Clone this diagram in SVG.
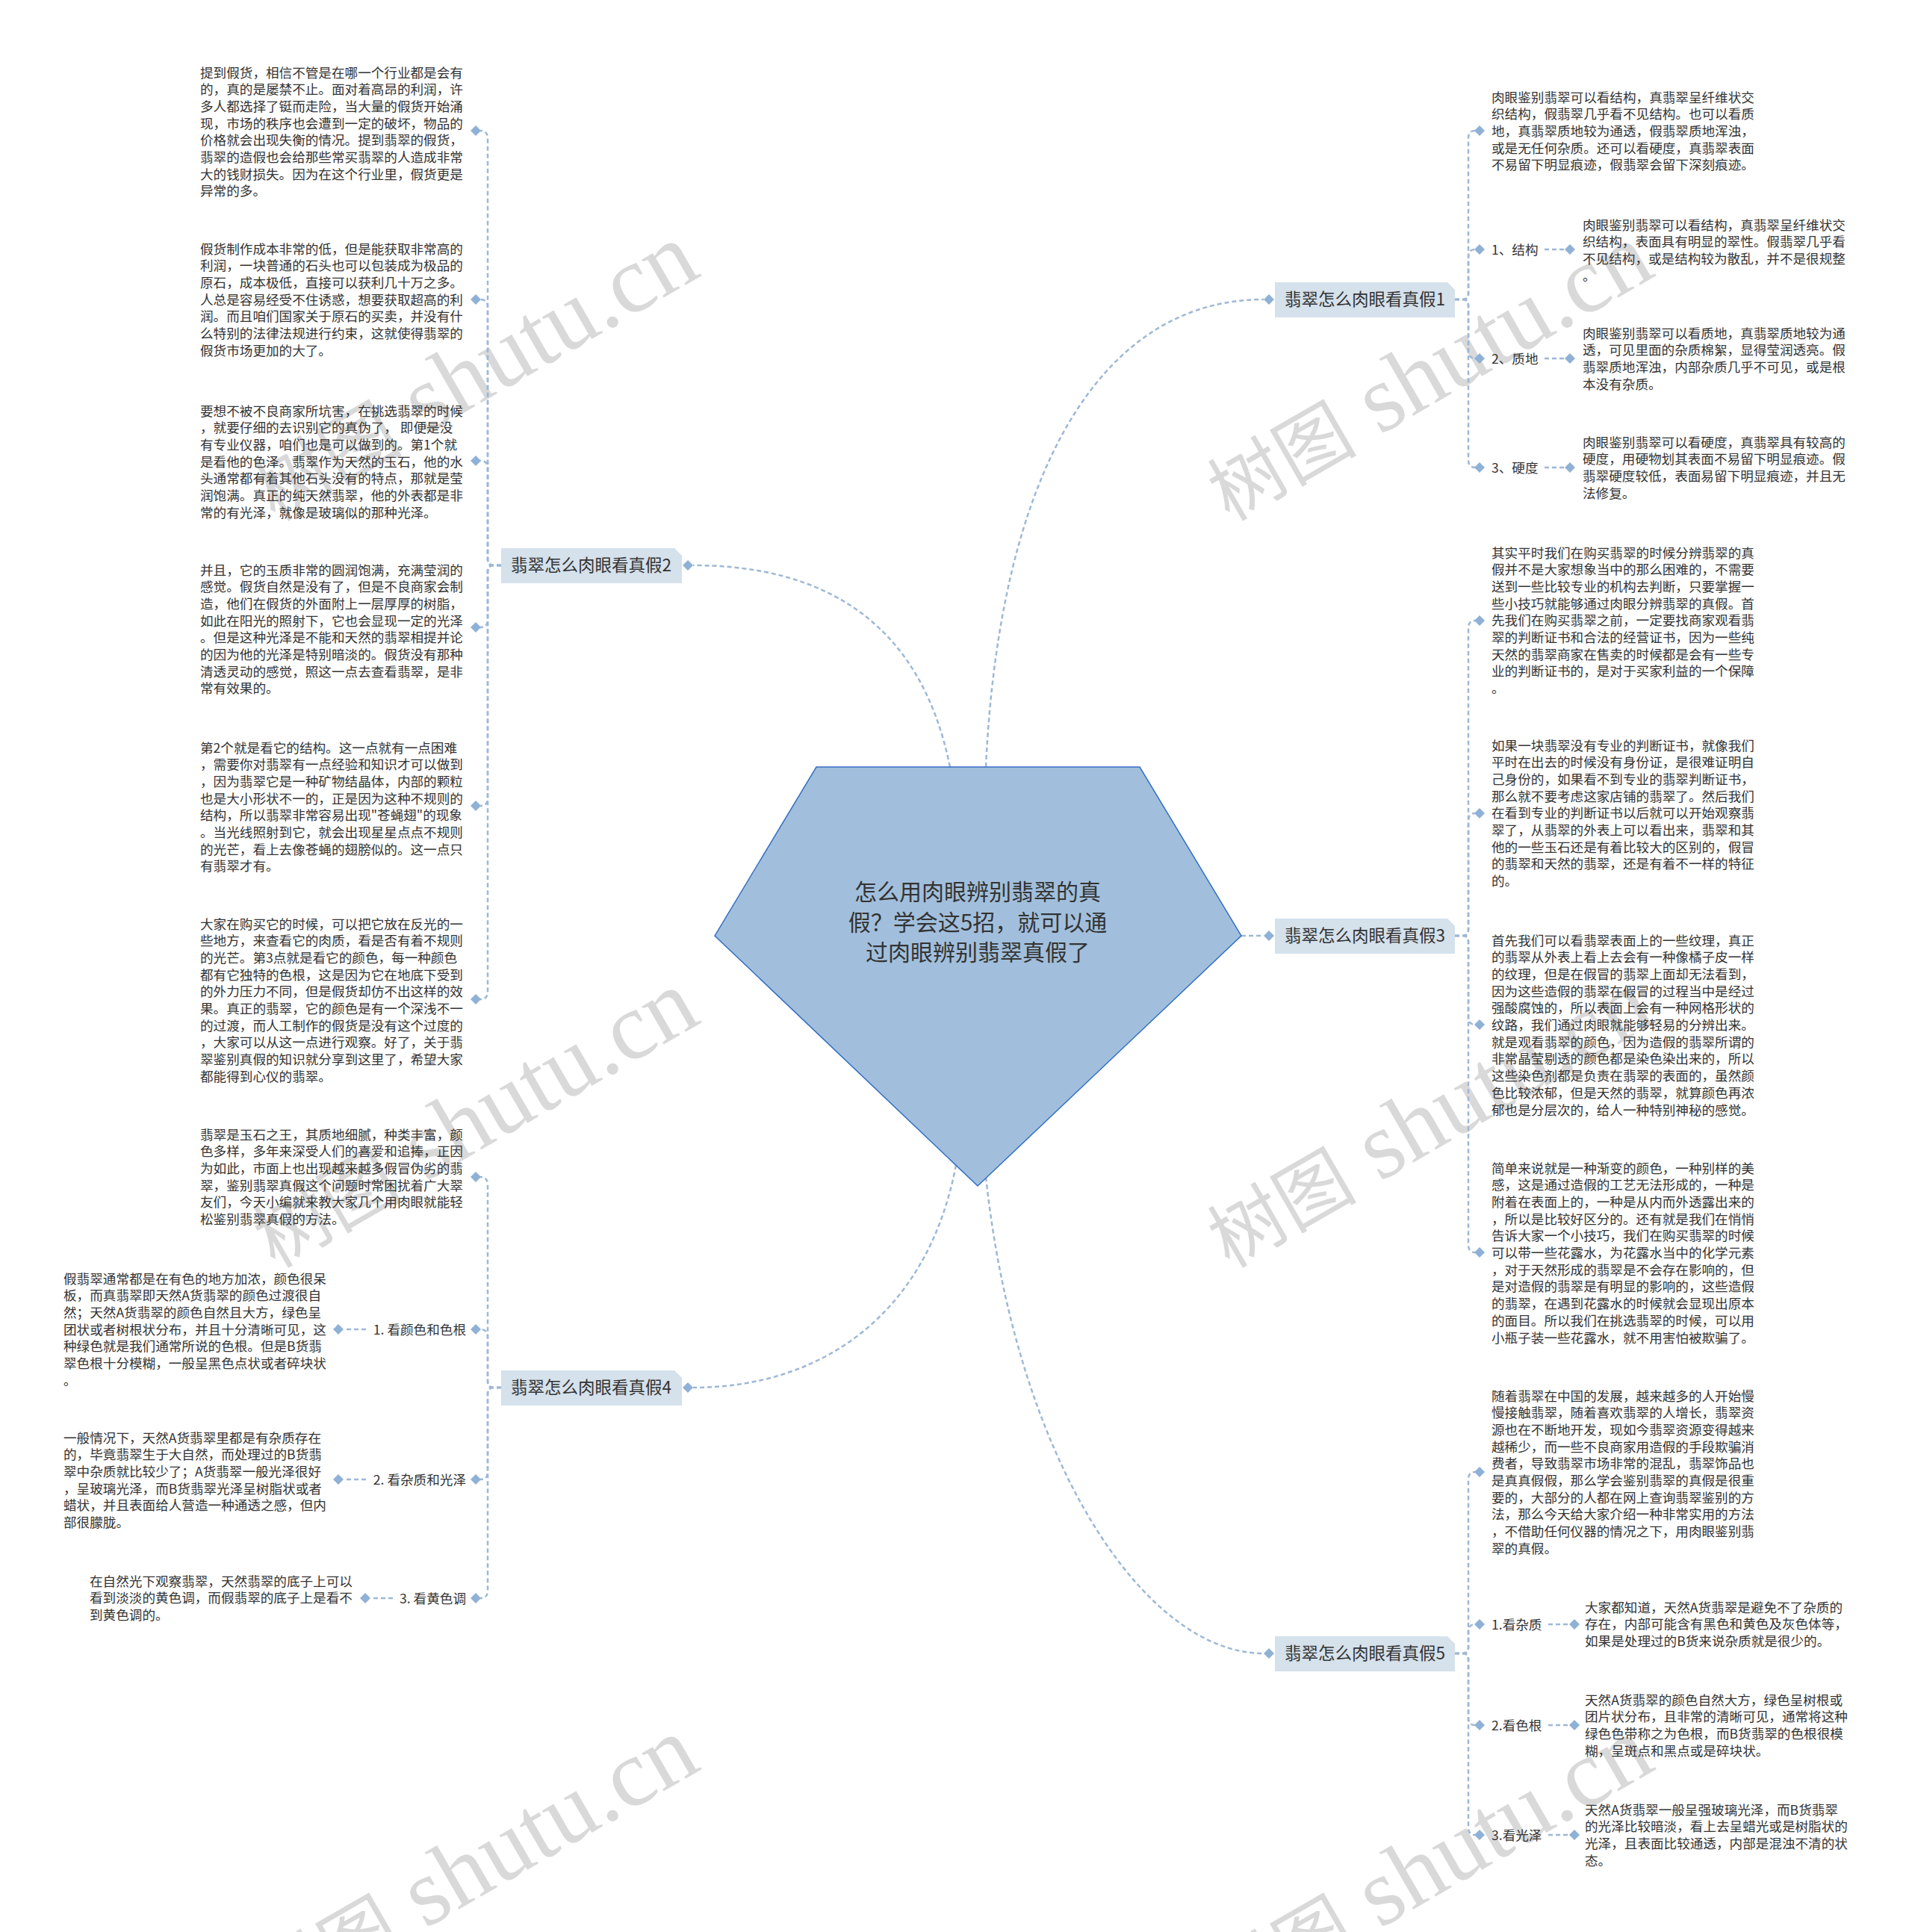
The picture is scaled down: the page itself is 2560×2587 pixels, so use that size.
<svg xmlns="http://www.w3.org/2000/svg" width="2560" height="2587" viewBox="0 0 2560 2587">
<style>
.t{font-family:"Noto Sans CJK SC","Liberation Sans",sans-serif;font-size:17.6px;fill:#333}
.b{font-size:22.5px}
.c{font-size:30px;text-anchor:middle}
.e{text-anchor:end}
.cn{fill:none;stroke:#9db8d6;stroke-width:2.5;stroke-dasharray:6 4}
.bx{fill:#d5e1eb}
.wm{font-family:"Liberation Serif","Noto Sans CJK SC",serif;font-size:128px;fill:#d9d9d9}
.wc{font-size:100px}
</style>
<defs>
<path id="dm" d="M0,-7 L7,0 L0,7 L-7,0Z" fill="#8fb1d6"/>
</defs>
<rect width="2560" height="2587" fill="#fff"/>
<g id="watermarks">
<text class="wm" x="368" y="699" transform="rotate(-30 368 699)"><tspan class="wc">树图</tspan> shutu.cn</text>
<text class="wm" x="368" y="1699" transform="rotate(-30 368 1699)"><tspan class="wc">树图</tspan> shutu.cn</text>
<text class="wm" x="368" y="2699" transform="rotate(-30 368 2699)"><tspan class="wc">树图</tspan> shutu.cn</text>
<text class="wm" x="1646" y="699" transform="rotate(-30 1646 699)"><tspan class="wc">树图</tspan> shutu.cn</text>
<text class="wm" x="1646" y="1699" transform="rotate(-30 1646 1699)"><tspan class="wc">树图</tspan> shutu.cn</text>
<text class="wm" x="1646" y="2699" transform="rotate(-30 1646 2699)"><tspan class="wc">树图</tspan> shutu.cn</text>
</g>
<g id="connectors">
<path class="cn" d="M1320,1027 C1338,640 1470,401 1692,401"/>
<path class="cn" d="M1272,1027 C1232,830 1100,757 928,757"/>
<path class="cn" d="M1662,1253 L1692,1253"/>
<path class="cn" d="M1280,1560 C1242,1760 1100,1858 928,1858"/>
<path class="cn" d="M1320,1576 C1360,1950 1530,2214 1692,2214"/>
<path class="cn" d="M1948,401 H1958 Q1966,401 1966,393 V185 Q1966,175 1975,175"/>
<path class="cn" d="M1948,401 H1958 Q1966,401 1966,393 V344 Q1966,334 1975,334"/>
<path class="cn" d="M1948,401 H1958 Q1966,401 1966,409 V470 Q1966,480 1975,480"/>
<path class="cn" d="M1948,401 H1958 Q1966,401 1966,409 V616 Q1966,626 1975,626"/>
<path class="cn" d="M2068,334 H2095"/>
<path class="cn" d="M2068,480 H2095"/>
<path class="cn" d="M2068,626 H2095"/>
<path class="cn" d="M1948,1253 H1958 Q1966,1253 1966,1245 V841 Q1966,831 1975,831"/>
<path class="cn" d="M1948,1253 H1958 Q1966,1253 1966,1245 V1099 Q1966,1089 1975,1089"/>
<path class="cn" d="M1948,1253 H1958 Q1966,1253 1966,1261 V1362 Q1966,1372 1975,1372"/>
<path class="cn" d="M1948,1253 H1958 Q1966,1253 1966,1261 V1667 Q1966,1677 1975,1677"/>
<path class="cn" d="M1948,2214 H1958 Q1966,2214 1966,2206 V1981 Q1966,1971 1975,1971"/>
<path class="cn" d="M1948,2214 H1958 Q1966,2214 1966,2206 V2185 Q1966,2175 1975,2175"/>
<path class="cn" d="M1948,2214 H1958 Q1966,2214 1966,2222 V2300 Q1966,2310 1975,2310"/>
<path class="cn" d="M1948,2214 H1958 Q1966,2214 1966,2222 V2447 Q1966,2457 1975,2457"/>
<path class="cn" d="M2073,2175 H2101"/>
<path class="cn" d="M2073,2310 H2101"/>
<path class="cn" d="M2073,2457 H2101"/>
<path class="cn" d="M671,757 H661 Q653,757 653,749 V185 Q653,175 643,175"/>
<path class="cn" d="M671,757 H661 Q653,757 653,749 V411 Q653,401 643,401"/>
<path class="cn" d="M671,757 H661 Q653,757 653,749 V627 Q653,617 643,617"/>
<path class="cn" d="M671,757 H661 Q653,757 653,765 V830 Q653,840 643,840"/>
<path class="cn" d="M671,757 H661 Q653,757 653,765 V1069 Q653,1079 643,1079"/>
<path class="cn" d="M671,757 H661 Q653,757 653,765 V1328 Q653,1338 643,1338"/>
<path class="cn" d="M671,1858 H661 Q653,1858 653,1850 V1586 Q653,1576 643,1576"/>
<path class="cn" d="M671,1858 H661 Q653,1858 653,1850 V1790 Q653,1780 643,1780"/>
<path class="cn" d="M671,1858 H661 Q653,1858 653,1866 V1971 Q653,1981 643,1981"/>
<path class="cn" d="M671,1858 H661 Q653,1858 653,1866 V2130 Q653,2140 643,2140"/>
<path class="cn" d="M490,1780 H460"/>
<path class="cn" d="M490,1981 H460"/>
<path class="cn" d="M526,2140 H496"/>
<use href="#dm" x="1699" y="401"/>
<use href="#dm" x="921" y="757"/>
<use href="#dm" x="1699" y="1253"/>
<use href="#dm" x="921" y="1858"/>
<use href="#dm" x="1699" y="2214"/>
<use href="#dm" x="1981" y="175"/>
<use href="#dm" x="1981" y="334"/>
<use href="#dm" x="1981" y="480"/>
<use href="#dm" x="1981" y="626"/>
<use href="#dm" x="2102" y="334"/>
<use href="#dm" x="2102" y="480"/>
<use href="#dm" x="2102" y="626"/>
<use href="#dm" x="1981" y="831"/>
<use href="#dm" x="1981" y="1089"/>
<use href="#dm" x="1981" y="1372"/>
<use href="#dm" x="1981" y="1677"/>
<use href="#dm" x="1981" y="1971"/>
<use href="#dm" x="1981" y="2175"/>
<use href="#dm" x="1981" y="2310"/>
<use href="#dm" x="1981" y="2457"/>
<use href="#dm" x="2108" y="2175"/>
<use href="#dm" x="2108" y="2310"/>
<use href="#dm" x="2108" y="2457"/>
<use href="#dm" x="637" y="175"/>
<use href="#dm" x="637" y="401"/>
<use href="#dm" x="637" y="617"/>
<use href="#dm" x="637" y="840"/>
<use href="#dm" x="637" y="1079"/>
<use href="#dm" x="637" y="1338"/>
<use href="#dm" x="637" y="1576"/>
<use href="#dm" x="637" y="1780"/>
<use href="#dm" x="637" y="1981"/>
<use href="#dm" x="637" y="2140"/>
<use href="#dm" x="453" y="1780"/>
<use href="#dm" x="453" y="1981"/>
<use href="#dm" x="489" y="2140"/>
</g>
<g id="root">
<polygon points="1093,1027 1526,1027 1662,1253 1309,1588 957,1253" fill="#a1bfdc" stroke="#3470c2" stroke-width="1.5"/>
<text class="t c" x="1309" y="1205">怎么用肉眼辨别翡翠的真</text>
<text class="t c" x="1309" y="1246">假？学会这5招，就可以通</text>
<text class="t c" x="1309" y="1286">过肉眼辨别翡翠真假了</text>
</g>
<g id="n1">
<path class="bx" d="M1707,378 H1938 L1948,388 V425 H1707Z"/>
<text class="t b" x="1720" y="409">翡翠怎么肉眼看真假1</text>
</g>
<g id="n2">
<path class="bx" d="M671,734 H903 L913,744 V781 H671Z"/>
<text class="t b" x="684" y="765">翡翠怎么肉眼看真假2</text>
</g>
<g id="n3">
<path class="bx" d="M1707,1230 H1938 L1948,1240 V1277 H1707Z"/>
<text class="t b" x="1720" y="1261">翡翠怎么肉眼看真假3</text>
</g>
<g id="n4">
<path class="bx" d="M671,1835 H903 L913,1845 V1882 H671Z"/>
<text class="t b" x="684" y="1866">翡翠怎么肉眼看真假4</text>
</g>
<g id="n5">
<path class="bx" d="M1707,2191 H1938 L1948,2201 V2238 H1707Z"/>
<text class="t b" x="1720" y="2222">翡翠怎么肉眼看真假5</text>
</g>
<g id="n2-children">
<text class="t" x="268" y="103.5"><tspan x="268">提到假货，相信不管是在哪一个行业都是会有</tspan><tspan x="268" dy="22.7">的，真的是屡禁不止。面对着高昂的利润，许</tspan><tspan x="268" dy="22.7">多人都选择了铤而走险，当大量的假货开始涌</tspan><tspan x="268" dy="22.7">现，市场的秩序也会遭到一定的破坏，物品的</tspan><tspan x="268" dy="22.7">价格就会出现失衡的情况。提到翡翠的假货，</tspan><tspan x="268" dy="22.7">翡翠的造假也会给那些常买翡翠的人造成非常</tspan><tspan x="268" dy="22.7">大的钱财损失。因为在这个行业里，假货更是</tspan><tspan x="268" dy="22.7">异常的多。</tspan></text>
<text class="t" x="268" y="339.5"><tspan x="268">假货制作成本非常的低，但是能获取非常高的</tspan><tspan x="268" dy="22.7">利润，一块普通的石头也可以包装成为极品的</tspan><tspan x="268" dy="22.7">原石，成本极低，直接可以获利几十万之多。</tspan><tspan x="268" dy="22.7">人总是容易经受不住诱惑，想要获取超高的利</tspan><tspan x="268" dy="22.7">润。而且咱们国家关于原石的买卖，并没有什</tspan><tspan x="268" dy="22.7">么特别的法律法规进行约束，这就使得翡翠的</tspan><tspan x="268" dy="22.7">假货市场更加的大了。</tspan></text>
<text class="t" x="268" y="556.5"><tspan x="268">要想不被不良商家所坑害，在挑选翡翠的时候</tspan><tspan x="268" dy="22.7">，就要仔细的去识别它的真伪了， 即便是没</tspan><tspan x="268" dy="22.7">有专业仪器，咱们也是可以做到的。第1个就</tspan><tspan x="268" dy="22.7">是看他的色泽。翡翠作为天然的玉石，他的水</tspan><tspan x="268" dy="22.7">头通常都有着其他石头没有的特点，那就是莹</tspan><tspan x="268" dy="22.7">润饱满。真正的纯天然翡翠，他的外表都是非</tspan><tspan x="268" dy="22.7">常的有光泽，就像是玻璃似的那种光泽。</tspan></text>
<text class="t" x="268" y="769.5"><tspan x="268">并且，它的玉质非常的圆润饱满，充满莹润的</tspan><tspan x="268" dy="22.7">感觉。假货自然是没有了，但是不良商家会制</tspan><tspan x="268" dy="22.7">造，他们在假货的外面附上一层厚厚的树脂，</tspan><tspan x="268" dy="22.7">如此在阳光的照射下，它也会显现一定的光泽</tspan><tspan x="268" dy="22.7">。但是这种光泽是不能和天然的翡翠相提并论</tspan><tspan x="268" dy="22.7">的因为他的光泽是特别暗淡的。假货没有那种</tspan><tspan x="268" dy="22.7">清透灵动的感觉，照这一点去查看翡翠，是非</tspan><tspan x="268" dy="22.7">常有效果的。</tspan></text>
<text class="t" x="268" y="1007.5"><tspan x="268">第2个就是看它的结构。这一点就有一点困难</tspan><tspan x="268" dy="22.7">，需要你对翡翠有一点经验和知识才可以做到</tspan><tspan x="268" dy="22.7">，因为翡翠它是一种矿物结晶体，内部的颗粒</tspan><tspan x="268" dy="22.7">也是大小形状不一的，正是因为这种不规则的</tspan><tspan x="268" dy="22.7">结构，所以翡翠非常容易出现"苍蝇翅"的现象</tspan><tspan x="268" dy="22.7">。当光线照射到它，就会出现星星点点不规则</tspan><tspan x="268" dy="22.7">的光芒，看上去像苍蝇的翅膀似的。这一点只</tspan><tspan x="268" dy="22.7">有翡翠才有。</tspan></text>
<text class="t" x="268" y="1243.5"><tspan x="268">大家在购买它的时候，可以把它放在反光的一</tspan><tspan x="268" dy="22.7">些地方，来查看它的肉质，看是否有着不规则</tspan><tspan x="268" dy="22.7">的光芒。第3点就是看它的颜色，每一种颜色</tspan><tspan x="268" dy="22.7">都有它独特的色根，这是因为它在地底下受到</tspan><tspan x="268" dy="22.7">的外力压力不同，但是假货却仿不出这样的效</tspan><tspan x="268" dy="22.7">果。真正的翡翠，它的颜色是有一个深浅不一</tspan><tspan x="268" dy="22.7">的过渡，而人工制作的假货是没有这个过度的</tspan><tspan x="268" dy="22.7">，大家可以从这一点进行观察。好了，关于翡</tspan><tspan x="268" dy="22.7">翠鉴别真假的知识就分享到这里了，希望大家</tspan><tspan x="268" dy="22.7">都能得到心仪的翡翠。</tspan></text>
</g>
<g id="n4-children">
<text class="t" x="268" y="1525.5"><tspan x="268">翡翠是玉石之王，其质地细腻，种类丰富，颜</tspan><tspan x="268" dy="22.7">色多样，多年来深受人们的喜爱和追捧，正因</tspan><tspan x="268" dy="22.7">为如此，市面上也出现越来越多假冒伪劣的翡</tspan><tspan x="268" dy="22.7">翠，鉴别翡翠真假这个问题时常困扰着广大翠</tspan><tspan x="268" dy="22.7">友们，今天小编就来教大家几个用肉眼就能轻</tspan><tspan x="268" dy="22.7">松鉴别翡翠真假的方法。</tspan></text>
<text class="t e" x="624" y="1786.5">1. 看颜色和色根</text>
<text class="t" x="85" y="1718.5"><tspan x="85">假翡翠通常都是在有色的地方加浓，颜色很呆</tspan><tspan x="85" dy="22.7">板，而真翡翠即天然A货翡翠的颜色过渡很自</tspan><tspan x="85" dy="22.7">然；天然A货翡翠的颜色自然且大方，绿色呈</tspan><tspan x="85" dy="22.7">团状或者树根状分布，并且十分清晰可见，这</tspan><tspan x="85" dy="22.7">种绿色就是我们通常所说的色根。但是B货翡</tspan><tspan x="85" dy="22.7">翠色根十分模糊，一般呈黑色点状或者碎块状</tspan><tspan x="85" dy="22.7">。</tspan></text>
<text class="t e" x="624" y="1987.5">2. 看杂质和光泽</text>
<text class="t" x="85" y="1931.5"><tspan x="85">一般情况下，天然A货翡翠里都是有杂质存在</tspan><tspan x="85" dy="22.7">的，毕竟翡翠生于大自然，而处理过的B货翡</tspan><tspan x="85" dy="22.7">翠中杂质就比较少了；A货翡翠一般光泽很好</tspan><tspan x="85" dy="22.7">，呈玻璃光泽，而B货翡翠光泽呈树脂状或者</tspan><tspan x="85" dy="22.7">蜡状，并且表面给人营造一种通透之感，但内</tspan><tspan x="85" dy="22.7">部很朦胧。</tspan></text>
<text class="t e" x="624" y="2146.5">3. 看黄色调</text>
<text class="t" x="120" y="2123.5"><tspan x="120">在自然光下观察翡翠，天然翡翠的底子上可以</tspan><tspan x="120" dy="22.7">看到淡淡的黄色调，而假翡翠的底子上是看不</tspan><tspan x="120" dy="22.7">到黄色调的。</tspan></text>
</g>
<g id="n1-children">
<text class="t" x="1997" y="136.5"><tspan x="1997">肉眼鉴别翡翠可以看结构，真翡翠呈纤维状交</tspan><tspan x="1997" dy="22.7">织结构，假翡翠几乎看不见结构。也可以看质</tspan><tspan x="1997" dy="22.7">地，真翡翠质地较为通透，假翡翠质地浑浊，</tspan><tspan x="1997" dy="22.7">或是无任何杂质。还可以看硬度，真翡翠表面</tspan><tspan x="1997" dy="22.7">不易留下明显痕迹，假翡翠会留下深刻痕迹。</tspan></text>
<text class="t" x="1997" y="340.5">1、结构</text>
<text class="t" x="2119" y="307.5"><tspan x="2119">肉眼鉴别翡翠可以看结构，真翡翠呈纤维状交</tspan><tspan x="2119" dy="22.7">织结构，表面具有明显的翠性。假翡翠几乎看</tspan><tspan x="2119" dy="22.7">不见结构，或是结构较为散乱，并不是很规整</tspan><tspan x="2119" dy="22.7">。</tspan></text>
<text class="t" x="1997" y="486.5">2、质地</text>
<text class="t" x="2119" y="452.5"><tspan x="2119">肉眼鉴别翡翠可以看质地，真翡翠质地较为通</tspan><tspan x="2119" dy="22.7">透，可见里面的杂质棉絮，显得莹润透亮。假</tspan><tspan x="2119" dy="22.7">翡翠质地浑浊，内部杂质几乎不可见，或是根</tspan><tspan x="2119" dy="22.7">本没有杂质。</tspan></text>
<text class="t" x="1997" y="632.5">3、硬度</text>
<text class="t" x="2119" y="598.5"><tspan x="2119">肉眼鉴别翡翠可以看硬度，真翡翠具有较高的</tspan><tspan x="2119" dy="22.7">硬度，用硬物划其表面不易留下明显痕迹。假</tspan><tspan x="2119" dy="22.7">翡翠硬度较低，表面易留下明显痕迹，并且无</tspan><tspan x="2119" dy="22.7">法修复。</tspan></text>
</g>
<g id="n3-children">
<text class="t" x="1997" y="746.5"><tspan x="1997">其实平时我们在购买翡翠的时候分辨翡翠的真</tspan><tspan x="1997" dy="22.7">假并不是大家想象当中的那么困难的，不需要</tspan><tspan x="1997" dy="22.7">送到一些比较专业的机构去判断，只要掌握一</tspan><tspan x="1997" dy="22.7">些小技巧就能够通过肉眼分辨翡翠的真假。首</tspan><tspan x="1997" dy="22.7">先我们在购买翡翠之前，一定要找商家观看翡</tspan><tspan x="1997" dy="22.7">翠的判断证书和合法的经营证书，因为一些纯</tspan><tspan x="1997" dy="22.7">天然的翡翠商家在售卖的时候都是会有一些专</tspan><tspan x="1997" dy="22.7">业的判断证书的，是对于买家利益的一个保障</tspan><tspan x="1997" dy="22.7">。</tspan></text>
<text class="t" x="1997" y="1004.5"><tspan x="1997">如果一块翡翠没有专业的判断证书，就像我们</tspan><tspan x="1997" dy="22.7">平时在出去的时候没有身份证，是很难证明自</tspan><tspan x="1997" dy="22.7">己身份的，如果看不到专业的翡翠判断证书，</tspan><tspan x="1997" dy="22.7">那么就不要考虑这家店铺的翡翠了。然后我们</tspan><tspan x="1997" dy="22.7">在看到专业的判断证书以后就可以开始观察翡</tspan><tspan x="1997" dy="22.7">翠了，从翡翠的外表上可以看出来，翡翠和其</tspan><tspan x="1997" dy="22.7">他的一些玉石还是有着比较大的区别的，假冒</tspan><tspan x="1997" dy="22.7">的翡翠和天然的翡翠，还是有着不一样的特征</tspan><tspan x="1997" dy="22.7">的。</tspan></text>
<text class="t" x="1997" y="1265.5"><tspan x="1997">首先我们可以看翡翠表面上的一些纹理，真正</tspan><tspan x="1997" dy="22.7">的翡翠从外表上看上去会有一种像橘子皮一样</tspan><tspan x="1997" dy="22.7">的纹理，但是在假冒的翡翠上面却无法看到，</tspan><tspan x="1997" dy="22.7">因为这些造假的翡翠在假冒的过程当中是经过</tspan><tspan x="1997" dy="22.7">强酸腐蚀的，所以表面上会有一种网格形状的</tspan><tspan x="1997" dy="22.7">纹路，我们通过肉眼就能够轻易的分辨出来。</tspan><tspan x="1997" dy="22.7">就是观看翡翠的颜色，因为造假的翡翠所谓的</tspan><tspan x="1997" dy="22.7">非常晶莹剔透的颜色都是染色染出来的，所以</tspan><tspan x="1997" dy="22.7">这些染色剂都是负责在翡翠的表面的，虽然颜</tspan><tspan x="1997" dy="22.7">色比较浓郁，但是天然的翡翠，就算颜色再浓</tspan><tspan x="1997" dy="22.7">郁也是分层次的，给人一种特别神秘的感觉。</tspan></text>
<text class="t" x="1997" y="1570.5"><tspan x="1997">简单来说就是一种渐变的颜色，一种别样的美</tspan><tspan x="1997" dy="22.7">感，这是通过造假的工艺无法形成的，一种是</tspan><tspan x="1997" dy="22.7">附着在表面上的，一种是从内而外透露出来的</tspan><tspan x="1997" dy="22.7">，所以是比较好区分的。还有就是我们在悄悄</tspan><tspan x="1997" dy="22.7">告诉大家一个小技巧，我们在购买翡翠的时候</tspan><tspan x="1997" dy="22.7">可以带一些花露水，为花露水当中的化学元素</tspan><tspan x="1997" dy="22.7">，对于天然形成的翡翠是不会存在影响的，但</tspan><tspan x="1997" dy="22.7">是对造假的翡翠是有明显的影响的，这些造假</tspan><tspan x="1997" dy="22.7">的翡翠，在遇到花露水的时候就会显现出原本</tspan><tspan x="1997" dy="22.7">的面目。所以我们在挑选翡翠的时候，可以用</tspan><tspan x="1997" dy="22.7">小瓶子装一些花露水，就不用害怕被欺骗了。</tspan></text>
</g>
<g id="n5-children">
<text class="t" x="1997" y="1875.5"><tspan x="1997">随着翡翠在中国的发展，越来越多的人开始慢</tspan><tspan x="1997" dy="22.7">慢接触翡翠，随着喜欢翡翠的人增长，翡翠资</tspan><tspan x="1997" dy="22.7">源也在不断地开发，现如今翡翠资源变得越来</tspan><tspan x="1997" dy="22.7">越稀少，而一些不良商家用造假的手段欺骗消</tspan><tspan x="1997" dy="22.7">费者，导致翡翠市场非常的混乱，翡翠饰品也</tspan><tspan x="1997" dy="22.7">是真真假假，那么学会鉴别翡翠的真假是很重</tspan><tspan x="1997" dy="22.7">要的，大部分的人都在网上查询翡翠鉴别的方</tspan><tspan x="1997" dy="22.7">法，那么今天给大家介绍一种非常实用的方法</tspan><tspan x="1997" dy="22.7">，不借助任何仪器的情况之下，用肉眼鉴别翡</tspan><tspan x="1997" dy="22.7">翠的真假。</tspan></text>
<text class="t" x="1997" y="2181.5">1.看杂质</text>
<text class="t" x="2122" y="2158.5"><tspan x="2122">大家都知道，天然A货翡翠是避免不了杂质的</tspan><tspan x="2122" dy="22.7">存在，内部可能含有黑色和黄色及灰色体等，</tspan><tspan x="2122" dy="22.7">如果是处理过的B货来说杂质就是很少的。</tspan></text>
<text class="t" x="1997" y="2316.5">2.看色根</text>
<text class="t" x="2122" y="2282.5"><tspan x="2122">天然A货翡翠的颜色自然大方，绿色呈树根或</tspan><tspan x="2122" dy="22.7">团片状分布，且非常的清晰可见，通常将这种</tspan><tspan x="2122" dy="22.7">绿色色带称之为色根，而B货翡翠的色根很模</tspan><tspan x="2122" dy="22.7">糊，呈斑点和黑点或是碎块状。</tspan></text>
<text class="t" x="1997" y="2463.5">3.看光泽</text>
<text class="t" x="2122" y="2429.5"><tspan x="2122">天然A货翡翠一般呈强玻璃光泽，而B货翡翠</tspan><tspan x="2122" dy="22.7">的光泽比较暗淡，看上去呈蜡光或是树脂状的</tspan><tspan x="2122" dy="22.7">光泽，且表面比较通透，内部是混浊不清的状</tspan><tspan x="2122" dy="22.7">态。</tspan></text>
</g>
</svg>
